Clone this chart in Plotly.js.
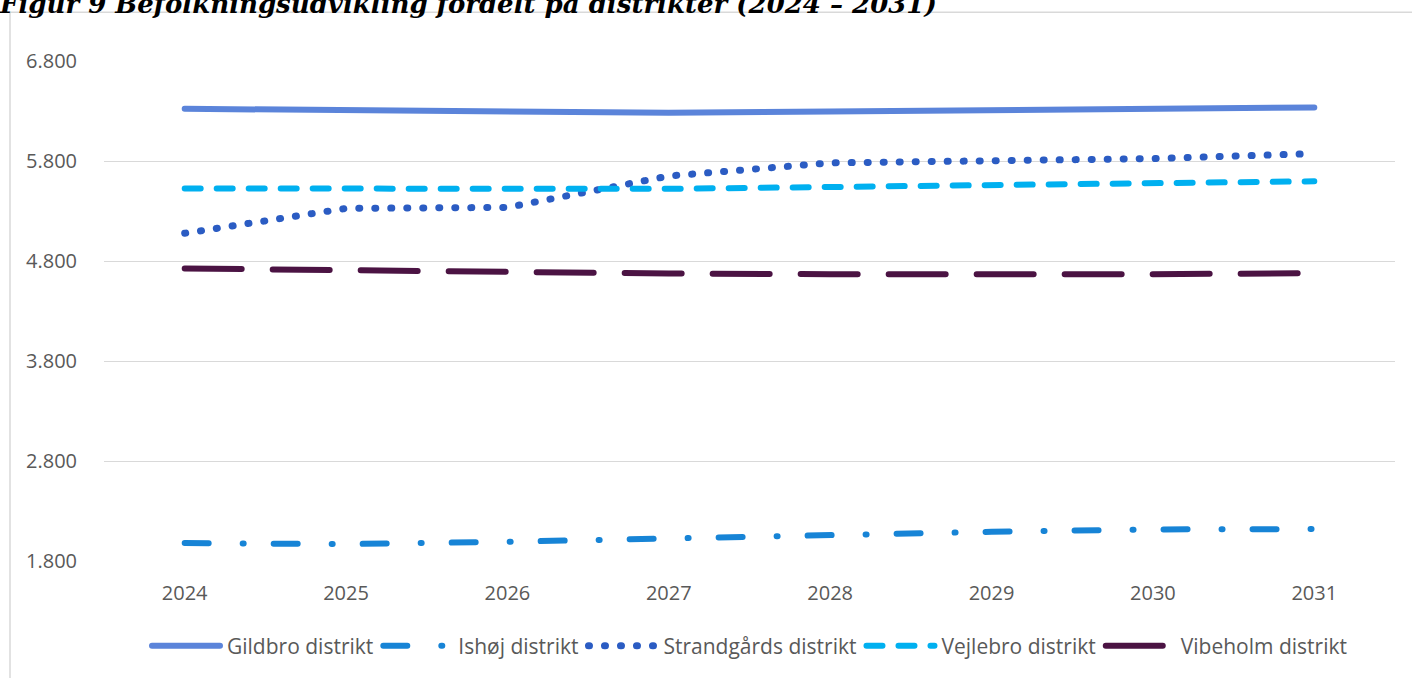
<!DOCTYPE html>
<html><head><meta charset="utf-8">
<script src="https://cdn.plot.ly/plotly-3.0.1.min.js"></script>
<style>
html,body{margin:0;padding:0;background:#fff;}
#chart{width:1412px;height:678px;}
.scatterlayer .js-line, .legendlines path { stroke-linecap: round !important; }
</style></head>
<body><div id="chart"></div>
<script>
const years = ['2024','2025','2026','2027','2028','2029','2030','2031'];
const gildbro = [6322, 6305, 6290, 6282, 6295, 6305, 6312, 6335];
const ishoj = [1979, 1969, 1992, 2029, 2062, 2092, 2116, 2119];
const strandgaards = [5077, 5326, 5336, 5650, 5781, 5797, 5824, 5874];
const vejlebro = [5525, 5522, 5522, 5522, 5540, 5555, 5568, 5597];
const vibeholm = [4725, 4708, 4684, 4675, 4668, 4665, 4668, 4678];
const seriesNames = ['Gildbro distrikt','Ishøj distrikt','Strandgårds distrikt','Vejlebro distrikt','Vibeholm distrikt'];
const yTicks = [1800, 2800, 3800, 4800, 5800, 6800];
const yTickText = ['1.800','2.800','3.800','4.800','5.800','6.800'];
const titleText = 'Figur 9 Befolkningsudvikling fordelt på distrikter (2024 – 2031)';

const W = 6;
const traces = [
  {name: seriesNames[0], y: gildbro, line: {color: '#5B84DA', width: W, dash: 'solid'}},
  {name: seriesNames[1], y: ishoj, line: {color: '#1784D6', width: W, dash: '24px,34px,1px,30px'}},
  {name: seriesNames[2], y: strandgaards, line: {color: '#2B5CC3', width: 7, dash: '1px,15px'}},
  {name: seriesNames[3], y: vejlebro, line: {color: '#00B0F0', width: W, dash: '16px,16px'}},
  {name: seriesNames[4], y: vibeholm, line: {color: '#4B1343', width: W, dash: '57px,31px'}}
].map(t => Object.assign({x: years, type: 'scatter', mode: 'lines', hoverinfo: 'skip'}, t));

const font = {family: 'Open Sans', size: 20, color: '#595959'};
const legendFont = {family: 'Open Sans', size: 21, color: '#595959'};
const layout = {
  width: 1412, height: 678,
  margin: {l: 104, r: 17, t: 61, b: 115},
  paper_bgcolor: '#fff', plot_bgcolor: '#fff',
  font: font,
  showlegend: true,
  title: {text: '<b><i>' + titleText + '</i></b>', x: 0, xanchor: 'left', xref: 'container',
          y: 1 - 13/678, yanchor: 'bottom', yref: 'container', automargin: false,
          font: {family: 'DejaVu Serif', size: 26, color: '#000'}},
  xaxis: {type: 'category', range: [-0.5, 7.5], showgrid: false, zeroline: false,
          showline: false, ticks: 'outside', ticklen: 14, tickcolor: 'rgba(0,0,0,0)',
          tickfont: font, fixedrange: true},
  yaxis: {range: [1800, 6800], tickvals: yTicks, ticktext: yTickText, showgrid: true,
          gridcolor: '#d9d9d9', gridwidth: 1, zeroline: false, showline: false,
          ticks: 'outside', ticklen: 22, tickcolor: 'rgba(0,0,0,0)', tickfont: font, fixedrange: true},
  legend: {orientation: 'h', x: 0.5, xanchor: 'center', y: -0.17, yanchor: 'middle',
           font: legendFont, itemwidth: 70, traceorder: 'normal'},
  shapes: [{type: 'rect', xref: 'paper', yref: 'paper',
            x0: (10-104)/1291, x1: (1430-104)/1291, y0: (563-700)/502, y1: (563-12)/502,
            line: {color: '#d9d9d9', width: 1.5}, fillcolor: 'rgba(0,0,0,0)', layer: 'below'}]
};
Plotly.newPlot('chart', traces, layout, {staticPlot: true, displayModeBar: false}).then(function () {
  document.querySelectorAll('.legendlines path').forEach(function (p) {
    p.setAttribute('d', 'M5,0h68');
  });
});
</script></body></html>
